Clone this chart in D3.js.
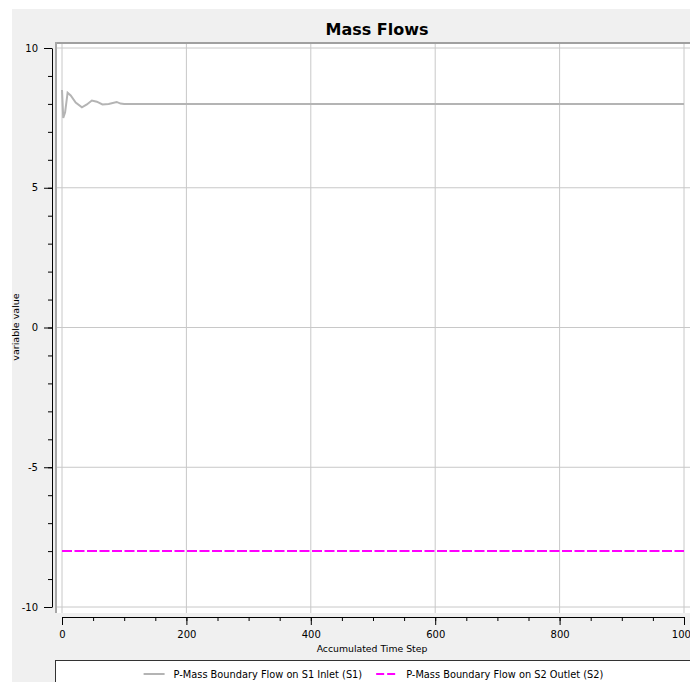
<!DOCTYPE html>
<html>
<head>
<meta charset="utf-8">
<script src="https://cdn.jsdelivr.net/npm/d3@7"></script>
<style>
  body { margin: 0; background: #fff; }
  svg { display: block; }
  .tick text { font-family: "DejaVu Sans", sans-serif; font-size: 10px; fill: #000; }
</style>
</head>
<body>
<div id="chart"></div>
<script>
// data
const seriesNames = ['P-Mass Boundary Flow on S1 Inlet (S1)', 'P-Mass Boundary Flow on S2 Outlet (S2)'];
const stepsS1 = [0, 2, 5, 9, 14, 22, 32, 40, 48, 56, 65, 75, 88, 94, 100, 1000];
const valuesS1 = [8.5, 7.5, 7.7, 8.4, 8.3, 8.05, 7.88, 7.98, 8.12, 8.08, 7.98, 8.0, 8.07, 8.01, 8.0, 8.0];
const stepsS2 = [0, 1000];
const valuesS2 = [-8, -8];
const xTicks = [0, 200, 400, 600, 800, 1000];
const yTicks = [-10, -5, 0, 5, 10];

const width = 690;
const height = 682;
const plot = { left: 55, top: 42, bottom: 613 };

const svg = d3.select('#chart').append('svg')
  .attr('width', width)
  .attr('height', height);

// grey panel
svg.append('rect')
  .attr('x', 12).attr('y', 9)
  .attr('width', width).attr('height', height)
  .attr('fill', '#f0f0f0');

const xScale = d3.scaleLinear().domain([0, 1000]).range([62, 684]);
const yScale = d3.scaleLinear().domain([-10, 10]).range([607, 48]);

// plain number labels ("-10", "1000")
const fmt = d => String(d);

// plot area
svg.append('rect')
  .attr('x', plot.left).attr('y', plot.top)
  .attr('width', width - plot.left).attr('height', plot.bottom - plot.top)
  .attr('fill', '#fff');

// grid
svg.append('g').selectAll('line').data(xTicks).enter().append('line')
  .attr('x1', d => xScale(d)).attr('x2', d => xScale(d))
  .attr('y1', plot.top).attr('y2', plot.bottom)
  .attr('stroke', '#c8c8c8').attr('stroke-width', 1);
svg.append('g').selectAll('line').data(yTicks).enter().append('line')
  .attr('x1', plot.left).attr('x2', width)
  .attr('y1', d => yScale(d)).attr('y2', d => yScale(d))
  .attr('stroke', '#c8c8c8').attr('stroke-width', 1);

// plot borders
svg.append('line').attr('x1', plot.left).attr('x2', width)
  .attr('y1', plot.top + 1).attr('y2', plot.top + 1)
  .attr('stroke', '#a0a0a0').attr('stroke-width', 2);
svg.append('line').attr('x1', plot.left + 1).attr('x2', plot.left + 1)
  .attr('y1', plot.top).attr('y2', plot.bottom)
  .attr('stroke', '#a8a8a8').attr('stroke-width', 2);

// series
const s1 = stepsS1.map((s, i) => [s, valuesS1[i]]);
const s2 = stepsS2.map((s, i) => [s, valuesS2[i]]);
const line = d3.line().x(d => xScale(d[0])).y(d => yScale(d[1]));

svg.append('path').datum(s1)
  .attr('d', line)
  .attr('fill', 'none')
  .attr('stroke', '#b4b4b4')
  .attr('stroke-width', 2);

svg.append('path').datum(s2)
  .attr('d', line)
  .attr('fill', 'none')
  .attr('stroke', '#ff00ff')
  .attr('stroke-width', 2)
  .attr('stroke-dasharray', '10,2.5');

// y axis
svg.append('g')
  .attr('transform', 'translate(52,0)')
  .call(d3.axisLeft(yScale).tickValues(d3.range(-10, 11, 1)).tickSize(4).tickFormat('').tickSizeOuter(0))
  .call(g => g.select('.domain').remove())
  .call(g => g.selectAll('.tick line').attr('stroke', '#000'));
svg.append('g')
  .attr('transform', 'translate(52,0)')
  .call(d3.axisLeft(yScale).tickValues(yTicks).tickFormat(fmt).tickSizeInner(8).tickSizeOuter(0).tickPadding(6))
  .call(g => g.selectAll('.tick text').attr('font-family', null).attr('font-size', null));

// x axis
svg.append('g')
  .attr('transform', 'translate(0,617)')
  .call(d3.axisBottom(xScale).tickValues(d3.range(0, 1001, 50)).tickSize(4).tickFormat('').tickSizeOuter(0))
  .call(g => g.select('.domain').remove());
svg.append('g')
  .attr('transform', 'translate(0,617)')
  .call(d3.axisBottom(xScale).tickValues(xTicks).tickFormat(fmt).tickSizeInner(8).tickSizeOuter(0).tickPadding(6))
  .call(g => g.selectAll('.tick text').attr('font-family', null).attr('font-size', null));

// title and axis labels
svg.append('text')
  .attr('x', 377).attr('y', 35)
  .attr('text-anchor', 'middle')
  .style('font-family', 'DejaVu Sans, sans-serif')
  .style('font-weight', 'bold')
  .style('font-size', '16px')
  .text('Mass Flows');

svg.append('text')
  .attr('x', 372).attr('y', 652)
  .attr('text-anchor', 'middle')
  .style('font-family', 'DejaVu Sans, sans-serif')
  .style('font-size', '9.3px')
  .text('Accumulated Time Step');

svg.append('text')
  .attr('transform', 'rotate(-90)')
  .attr('x', -327).attr('y', 19)
  .attr('text-anchor', 'middle')
  .style('font-family', 'DejaVu Sans, sans-serif')
  .style('font-size', '9.5px')
  .text('variable value');

// legend
svg.append('rect')
  .attr('x', 55.5).attr('y', 660.5)
  .attr('width', 700).attr('height', 60)
  .attr('fill', '#fff')
  .attr('stroke', '#333');

const legendStyles = [
  { color: '#b4b4b4', dash: null },
  { color: '#ff00ff', dash: '8,3' }
];
const legend = svg.append('g');
const items = legend.selectAll('g').data(seriesNames).enter().append('g');
items.append('line')
  .attr('x1', 0).attr('x2', 21)
  .attr('y1', 0).attr('y2', 0)
  .attr('stroke', (d, i) => legendStyles[i].color)
  .attr('stroke-width', 2)
  .attr('stroke-dasharray', (d, i) => legendStyles[i].dash);
items.append('text')
  .attr('x', 30).attr('y', 4)
  .style('font-family', 'DejaVu Sans, sans-serif')
  .style('font-size', '9.8px')
  .text(d => d);

let offs = [];
let total = 0;
items.each(function(d, i) {
  const w = 30 + this.querySelector('text').getComputedTextLength();
  offs.push(total);
  total += w + (i < seriesNames.length - 1 ? 14 : 0);
});
const startX = 373.5 - total / 2;
items.attr('transform', (d, i) => `translate(${startX + offs[i]},674)`);
</script>
</body>
</html>
